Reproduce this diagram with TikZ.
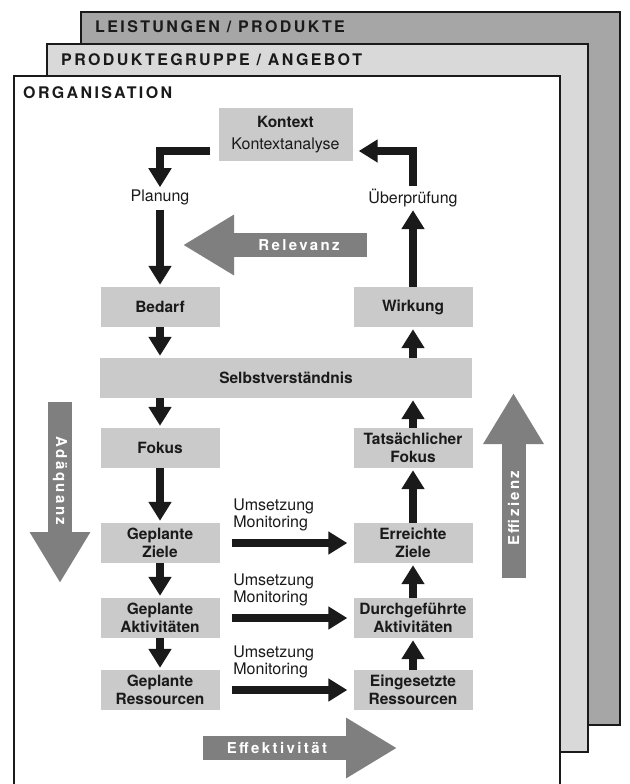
\documentclass[tikz,border=0pt]{standalone}
\usepackage{fontspec}
\setmainfont{TeX Gyre Heros}
\usetikzlibrary{arrows.meta,calc}
\definecolor{boxgray}{HTML}{CACACA}
\definecolor{frameA}{HTML}{A6A6A6}
\definecolor{frameB}{HTML}{D9D9D9}
\definecolor{biggray}{HTML}{7F7F7F}
\definecolor{ink}{HTML}{1A1A1A}
\begin{document}
\begin{tikzpicture}[x=1pt,y=-1pt,
  frame/.style={draw=ink, line width=1.8pt},
  hdr/.style={font=\fontsize{16}{18}\selectfont\bfseries\addfontfeature{LetterSpace=15}, text=ink, inner sep=0pt, anchor=base west},
  box/.style={fill=boxgray, minimum width=119pt, minimum height=40pt, inner sep=0pt, align=center,
    font=\fontsize{15.5}{18}\selectfont\bfseries, text=ink},
  lbl/.style={font=\fontsize{16}{17}\selectfont, text=ink, inner sep=1pt, align=left},
  flow/.style={draw=ink, line width=8.5pt, line join=miter, -{Triangle[length=19pt,width=22pt]}},
  big/.style={draw=biggray, line width=24pt, -{Triangle[length=51pt,width=57pt]}},
  bigtxt/.style={font=\fontsize{15}{17}\selectfont\bfseries\addfontfeature{LetterSpace=16}, text=white, inner sep=0pt},
]
\useasboundingbox (0,0) rectangle (629,784);
\clip (0,0) rectangle (629,784);
\fill[white] (0,0) rectangle (629,784);

% stacked frames
\draw[frame, fill=frameA] (81,12) rectangle (620,725);
\node[hdr] (hdrA) at (95,32.5) {LEISTUNGEN / PRODUKTE};
\draw[frame, fill=frameB] (47,44) rectangle (588,752);
\node[hdr] (hdrB) at (61,65.5) {PRODUKTEGRUPPE / ANGEBOT};
\draw[frame, fill=white] (14,76) rectangle (560,800);
\node[hdr] (hdrC) at (23,98.5) {ORGANISATION};

% boxes
\node[box, minimum width=134pt, minimum height=53pt] (kontext) at (285.5,134.5)
  {Kontext\\[4pt]{\mdseries\fontsize{16}{18}\selectfont Kontextanalyse}};
\node[box] (bedarf) at (160,307) {Bedarf};
\node[box] (wirkung) at (413,307) {Wirkung};
\node[box, minimum width=372pt] (selbst) at (286,378) {Selbstverständnis};
\node[box] (fokus) at (160,448) {Fokus};
\node[box] (tfokus) at (413,448) {Tatsächlicher\\Fokus};
\node[box] (gziele) at (160,543) {Geplante\\Ziele};
\node[box] (eziele) at (413,543) {Erreichte\\Ziele};
\node[box] (gakt) at (160,618) {Geplante\\Aktivitäten};
\node[box] (dakt) at (413,618) {Durchgeführte\\Aktivitäten};
\node[box] (gres) at (160,690) {Geplante\\Ressourcen};
\node[box] (eres) at (413,690) {Eingesetzte\\Ressourcen};

% labels
\node[lbl] (planung) at (160,197) {Planung};
\node[lbl] (ueber) at (413,198) {Überprüfung};

% cycle arrows
\draw[flow] ($(kontext.west)+(-8,16.5)$) -| ($(planung.north)+(0,-1)$);
\draw[flow] ($(planung.south)+(0,4)$) -- ([yshift=2pt]bedarf.north);
\draw[flow] (bedarf.south) -- ([yshift=2pt]bedarf |- selbst.north);
\draw[flow] (fokus |- selbst.south) -- ([yshift=2pt]fokus.north);
\draw[flow] (fokus.south) -- ([yshift=2pt]gziele.north);
\draw[flow] (gziele.south) -- ([yshift=2pt]gakt.north);
\draw[flow] (gakt.south) -- ([yshift=2pt]gres.north);

\draw[flow] (eres.north) -- ([yshift=-2pt]dakt.south);
\draw[flow] (dakt.north) -- ([yshift=-2pt]eziele.south);
\draw[flow] (eziele.north) -- ([yshift=-2pt]tfokus.south);
\draw[flow] (tfokus.north) -- ([yshift=-2pt]tfokus |- selbst.south);
\draw[flow] (wirkung |- selbst.north) -- ([yshift=-2pt]wirkung.south);
\draw[flow] (wirkung.north) -- ($(ueber.south)+(0,2)$);
\draw[flow] ($(ueber.north)+(0,-2)$) |- ($(kontext.east)+(6,16.5)$);

% Umsetzung arrows
\foreach \a/\b in {gziele/eziele, gakt/dakt, gres/eres}{
  \draw[flow] ([xshift=12pt]\a.east) -- ([xshift=-6pt]\b.west);
  \node[lbl, anchor=south west, inner sep=0pt] at ($(\a.east)+(13.5,-12)$) {Umsetzung\\Monitoring};
}

% big grey arrows
\coordinate (relT) at (367,245);
\coordinate (relH) at (183,245);
\draw[big] (relT) -- (relH);
\node[bigtxt] (relL) at (299,245) {Relevanz};

\coordinate (adqT) at (60,402);
\coordinate (adqH) at (60,583);
\draw[big] (adqT) -- (adqH);
\node[bigtxt, rotate=-90] (adqL) at (60,481) {Adäquanz};

\coordinate (effT) at (513.5,578);
\coordinate (effH) at (513.5,393);
\draw[big] (effT) -- (effH);
\node[bigtxt, rotate=90] (effL) at (513.5,508) {Effizienz};

\coordinate (ektT) at (203,748);
\coordinate (ektH) at (397,748);
\draw[big] (ektT) -- (ektH);
\node[bigtxt] (ektL) at (277,748) {Effektivität};
\end{tikzpicture}
\end{document}
